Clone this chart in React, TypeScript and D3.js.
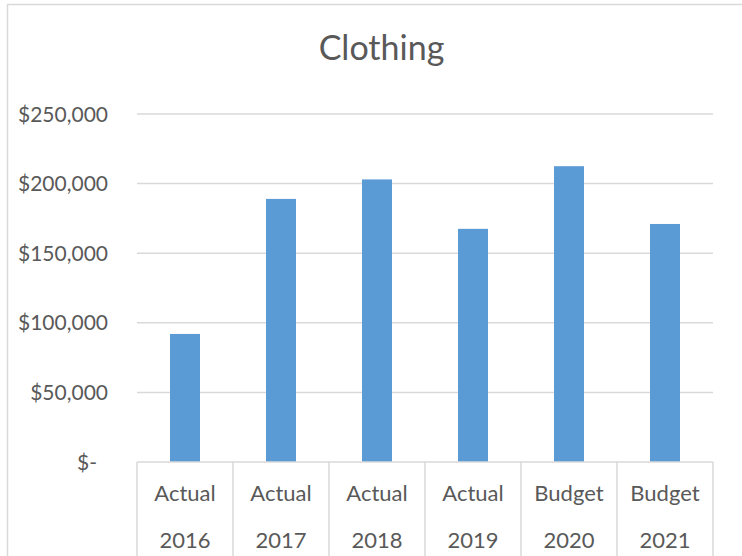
import React from "react";
import * as d3 from "d3";

const categoriesTop = ["Actual", "Actual", "Actual", "Actual", "Budget", "Budget"];
const categoriesYear = ["2016", "2017", "2018", "2019", "2020", "2021"];
const values = [92000, 189000, 203000, 167500, 212500, 171000];
const yTicks = [0, 50000, 100000, 150000, 200000, 250000];
const title = "Clothing";

const W = 742;
const H = 556;
const FONT = "Lato, 'Open Sans', sans-serif";
const TEXT = "#595959";
const GRID = "#D9D9D9";
const BAR = "#5B9BD5";

export default function App() {
  const left = 137;
  const right = 713;
  const top = 114;
  const bottom = 462;

  const keys = categoriesYear.map((_, i) => String(i));
  const x = d3.scaleBand<string>().domain(keys).range([left, right]).padding(0);
  const y = d3.scaleLinear().domain([0, 250000]).range([bottom, top]);
  const barW = x.bandwidth() * 0.3125;
  const fmt = d3.format("$,.0f");

  return (
    <svg
      width={W}
      height={H}
      style={{ position: "absolute", left: 0, top: 0, background: "#fff" }}
      fontFamily={FONT}
    >
      <rect x={7.5} y={4.5} width={W + 20} height={H + 20} fill="#fff" stroke={GRID} strokeWidth={1.5} />
      <text x={381.5} y={60} textAnchor="middle" fontSize={34} fill={TEXT}>
        {title}
      </text>
      {yTicks.map((t) => (
        <g key={t}>
          {t > 0 && (
            <line x1={left} x2={right} y1={y(t)} y2={y(t)} stroke={GRID} strokeWidth={1.5} />
          )}
          <text
            x={t === 0 ? 97 : 108}
            y={y(t)}
            dy="0.36em"
            textAnchor="end"
            fontSize={21}
            fill={TEXT}
          >
            {t === 0 ? "$-" : fmt(t)}
          </text>
        </g>
      ))}
      {values.map((v, i) => (
        <rect
          key={i}
          x={(x(String(i)) as number) + (x.bandwidth() - barW) / 2}
          y={y(v)}
          width={barW}
          height={y(0) - y(v)}
          fill={BAR}
        />
      ))}
      <line x1={left} x2={right} y1={bottom} y2={bottom} stroke={GRID} strokeWidth={1.5} />
      {keys.concat([String(keys.length)]).map((k, i) => {
        const xx = i < keys.length ? (x(k) as number) : right;
        return <line key={"d" + i} x1={xx} x2={xx} y1={bottom} y2={H} stroke={GRID} strokeWidth={1.5} />;
      })}
      {keys.map((k, i) => {
        const cx = (x(k) as number) + x.bandwidth() / 2;
        return (
          <g key={"l" + i}>
            <text x={cx} y={493} dy="0.36em" textAnchor="middle" fontSize={22} fill={TEXT}>
              {categoriesTop[i]}
            </text>
            <text x={cx} y={540} dy="0.36em" textAnchor="middle" fontSize={22} fill={TEXT}>
              {categoriesYear[i]}
            </text>
          </g>
        );
      })}
    </svg>
  );
}
